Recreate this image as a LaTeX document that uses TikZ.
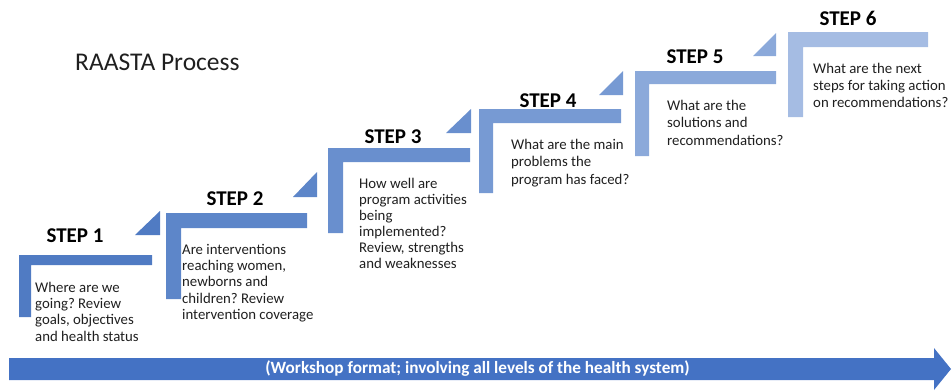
\documentclass[tikz,border=0pt]{standalone}
\usepackage{fontspec}
\setmainfont{Carlito}
\frenchspacing
\definecolor{stepA}{HTML}{507BC3}
\definecolor{stepB}{HTML}{5D86C9}
\definecolor{stepC}{HTML}{698FCE}
\definecolor{stepD}{HTML}{779AD3}
\definecolor{stepE}{HTML}{8BA9DA}
\definecolor{stepF}{HTML}{A5BCE3}
\definecolor{barblue}{HTML}{4472C4}
\definecolor{bodytext}{HTML}{1F1F1F}
% L-shaped stair: left x, right x, inner x, top y, bar bottom y, leg bottom y
\newcommand\stairL[7]{%
  \fill[#1] (#2,#5) -- (#3,#5) -- (#3,#6) -- (#4,#6) -- (#4,#7) -- (#2,#7) -- cycle;}
% right-angled riser triangle: left x, right x, bottom y, top y
\newcommand\riser[5]{%
  \fill[#1] (#2,#4) -- (#3,#4) -- (#3,#5) -- cycle;}
\begin{document}
\begin{tikzpicture}[x=1pt,y=-1pt,
  stepname/.style={font=\fontsize{21}{25}\selectfont\bfseries, text=black, inner sep=0, anchor=base},
  desc/.style={font=\fontsize{14.8}{#1}\selectfont, text=bodytext, inner sep=0, anchor=base west},
  desc/.default=16.2,
  titletext/.style={font=\fontsize{25.5}{30}\selectfont, text=bodytext, inner sep=0, anchor=base west},
  bartext/.style={font=\fontsize{17.2}{20}\selectfont\bfseries, text=white, inner sep=0}
]
\useasboundingbox (0,0) rectangle (952,391);

% staircase
\stairL{stepA}{19}{152}{31}{255}{265}{317}
\riser{stepA}{135}{160}{235}{211}
\stairL{stepB}{166}{307}{181}{213}{228}{299}
\riser{stepB}{293}{317}{197}{172}
\stairL{stepC}{328}{470}{343}{148}{162}{233}
\riser{stepC}{446}{471}{133}{109}
\stairL{stepD}{479}{621}{493}{109}{123}{193}
\riser{stepD}{599}{623}{95}{71}
\stairL{stepE}{635}{776}{649}{71}{84}{156}
\riser{stepE}{753}{776}{56}{33}
\stairL{stepF}{788}{928}{803}{32}{47}{117}

% title
\node[titletext] (title) at (75,70) {RAASTA Process};

% step names
\node[stepname] (s1) at (75,242) {STEP 1};
\node[stepname] (s2) at (235,205) {STEP 2};
\node[stepname] (s3) at (393,143) {STEP 3};
\node[stepname] (s4) at (548,107) {STEP 4};
\node[stepname] (s5) at (695,63) {STEP 5};
\node[stepname] (s6) at (848,25) {STEP 6};

% step questions
\node[desc=16.2] (q1) at (35,292.5) {\begin{tabular}[t]{@{}l@{}}Where are we\\going? Review\\goals, objectives\\and health status\end{tabular}};
\node[desc=16.25] (q2) at (182,254.3) {\begin{tabular}[t]{@{}l@{}}Are interventions\\reaching women,\\newborns and\\children? Review\\intervention coverage\end{tabular}};
\node[desc=16.1] (q3) at (359,188.3) {\begin{tabular}[t]{@{}l@{}}How well are\\program activities\\being\\implemented?\\Review, strengths\\and weaknesses\end{tabular}};
\node[desc=17.5] (q4) at (511,149) {\begin{tabular}[t]{@{}l@{}}What are the main\\problems the\\program has faced?\end{tabular}};
\node[desc=17.5] (q5) at (667,110) {\begin{tabular}[t]{@{}l@{}}What are the\\solutions and\\recommendations?\end{tabular}};
\node[desc=17] (q6) at (813,73) {\begin{tabular}[t]{@{}l@{}}What are the next\\steps for taking action\\on recommendations?\end{tabular}};

% workshop arrow
\fill[barblue] (9,358) -- (934,358) -- (934,348) -- (951,369) -- (934,390) -- (934,380) -- (9,380) -- cycle;
\node[bartext] (workshop) at (477.5,369) {(Workshop format; involving all levels of the health system)};
\end{tikzpicture}
\end{document}
